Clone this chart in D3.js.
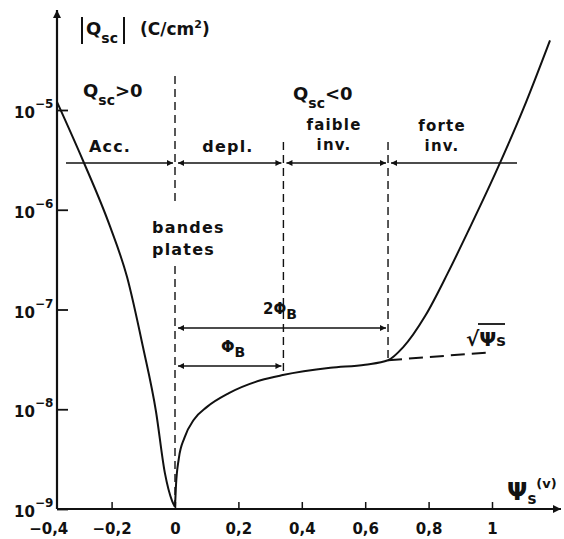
<!DOCTYPE html>
<html>
<head>
<meta charset="utf-8">
<script src="https://cdn.jsdelivr.net/npm/d3@7"></script>
<style>
body { margin: 0; background: #fff; }
text { font-family: "DejaVu Sans", sans-serif; font-weight: bold; fill: #111; }
</style>
</head>
<body>
<svg id="plot"></svg>
<script>
// accumulation branch (psi_s in V, |Qsc| in C/cm2)
const accPsi = [-0.372, -0.29, -0.205, -0.151, -0.101, -0.06, -0.032, -0.009, 0];
const accQ = [1.2e-5, 3.1e-6, 6.8e-7, 2.1e-7, 4.2e-8, 9.5e-9, 2.3e-9, 1.2e-9, 1.05e-9];
// depletion / inversion branch
const invPsi = [0, 0.003, 0.012, 0.03, 0.06, 0.1, 0.17, 0.27, 0.34, 0.49, 0.6, 0.672, 0.72, 0.79, 0.86, 0.93, 1.01, 1.1, 1.183];
const invQ = [1.05e-9, 1.7e-9, 3.2e-9, 5.2e-9, 7.9e-9, 1.05e-8, 1.45e-8, 1.95e-8, 2.2e-8, 2.6e-8, 2.8e-8, 3.1e-8, 4.2e-8, 8.7e-8, 2.3e-7, 6.6e-7, 2.3e-6, 1.05e-5, 5.0e-5];
// sqrt(psi_s) extension (dashed)
const sqrtPsi = [0.672, 0.984];
const sqrtQ = [3.1e-8, 3.7e-8];
// ticks and regions
const xTicks = [-0.4, -0.2, 0, 0.2, 0.4, 0.6, 0.8, 1];
const yTicks = [1e-9, 1e-8, 1e-7, 1e-6, 1e-5];
const phiB = 0.342;
const twoPhiB = 0.672;

const svg = d3.select("#plot")
    .attr("width", 564)
    .attr("height", 539);

const x = d3.scaleLinear().domain([0, 1]).range([175, 492]);
const y = d3.scaleLog().domain([1e-9, 1e-5]).range([509, 110]);
const axisX = 57;

// arrow heads
const defs = svg.append("defs");
defs.append("marker")
    .attr("id", "arr")
    .attr("viewBox", "0 0 10 10")
    .attr("refX", 10).attr("refY", 5)
    .attr("markerUnits", "userSpaceOnUse")
    .attr("markerWidth", 9).attr("markerHeight", 6)
    .attr("orient", "auto-start-reverse")
    .append("path").attr("d", "M0,0 L10,5 L0,10 z").attr("fill", "#111");
defs.append("marker")
    .attr("id", "big")
    .attr("viewBox", "0 0 10 10")
    .attr("refX", 10).attr("refY", 5)
    .attr("markerUnits", "userSpaceOnUse")
    .attr("markerWidth", 11).attr("markerHeight", 8)
    .attr("orient", "auto")
    .append("path").attr("d", "M0,0 L10,5 L0,10 z").attr("fill", "#111");

// x axis
const fmt = v => v === 0 ? "0" : d3.format(".1f")(v).replace(".", ",").replace("-", "\u2212").replace(",0", "");
const gx = svg.append("g")
    .attr("transform", `translate(0,${y(1e-9)})`)
    .call(d3.axisBottom(x).tickValues(xTicks).tickSize(-7).tickPadding(14).tickFormat(fmt));
gx.select(".domain").remove();
gx.selectAll(".tick line").attr("stroke", "#111").attr("stroke-width", 1.5)
    .filter(d => d < -0.3).remove();
gx.selectAll(".tick text").style("font-size", "15px").attr("fill", "#111");
svg.append("line")
    .attr("x1", axisX).attr("x2", 561)
    .attr("y1", y(1e-9)).attr("y2", y(1e-9))
    .attr("stroke", "#111").attr("stroke-width", 2.2)
    .attr("marker-end", "url(#big)");

// y axis
const gy = svg.append("g")
    .attr("transform", `translate(${axisX},0)`)
    .call(d3.axisLeft(y).tickValues(yTicks).tickSize(-11).tickFormat(""));
gy.select(".domain").remove();
gy.selectAll(".tick line").attr("stroke", "#111").attr("stroke-width", 1.8);
svg.append("line")
    .attr("x1", axisX).attr("x2", axisX)
    .attr("y1", y(1e-9)).attr("y2", 10)
    .attr("stroke", "#111").attr("stroke-width", 2.2)
    .attr("marker-end", "url(#big)");

const yLab = svg.append("g").selectAll("text")
    .data(yTicks).enter().append("text")
    .attr("x", 14)
    .attr("y", d => y(d) + 8)
    .style("font-size", "15px");
yLab.append("tspan").text("10");
yLab.append("tspan")
    .attr("dy", -10).style("font-size", "12px")
    .text(d => "\u2212" + Math.round(-Math.log10(d)));

// curves
const line = d3.line()
    .x(d => x(d[0]))
    .y(d => y(d[1]))
    .curve(d3.curveMonotoneX);

svg.append("path")
    .datum(accPsi.map((p, i) => [p, accQ[i]]))
    .attr("d", line)
    .attr("fill", "none").attr("stroke", "#111").attr("stroke-width", 2);
svg.append("path")
    .datum(invPsi.map((p, i) => [p, invQ[i]]))
    .attr("d", line)
    .attr("fill", "none").attr("stroke", "#111").attr("stroke-width", 2);
svg.append("path")
    .datum(sqrtPsi.map((p, i) => [p, sqrtQ[i]]))
    .attr("d", line)
    .attr("fill", "none").attr("stroke", "#111").attr("stroke-width", 2)
    .attr("stroke-dasharray", "14,7");

// dashed verticals
function vdash(px, y1, y2) {
    svg.append("line")
        .attr("x1", px).attr("x2", px)
        .attr("y1", y1).attr("y2", y2)
        .attr("stroke", "#111").attr("stroke-width", 1.4)
        .attr("stroke-dasharray", "8,5");
}
vdash(x(0), 76, 205);
vdash(x(0), 266, y(1e-9) - 4);
vdash(x(phiB), 142, 372);
vdash(x(twoPhiB), 142, 358);

// arrows
function harrow(x1, x2, yy, start, end) {
    const l = svg.append("line")
        .attr("x1", x1).attr("x2", x2)
        .attr("y1", yy).attr("y2", yy)
        .attr("stroke", "#111").attr("stroke-width", 1.6);
    if (start) l.attr("marker-start", "url(#arr)");
    if (end) l.attr("marker-end", "url(#arr)");
}
const ry = 163;
harrow(66, x(0) - 2, ry, false, true);
harrow(x(0) + 3, x(phiB) - 2, ry, true, true);
harrow(x(phiB) + 3, x(twoPhiB) - 2, ry, true, true);
harrow(x(twoPhiB) + 3, 517, ry, true, false);
harrow(x(0) + 3, x(twoPhiB) - 2, 328, true, true);
harrow(x(0) + 3, x(phiB) - 2, 366, true, true);

// labels
function label(tx, ty, str, size, anchor) {
    return svg.append("text")
        .attr("x", tx).attr("y", ty)
        .attr("text-anchor", anchor || "start")
        .style("font-size", size + "px")
        .style("letter-spacing", "1.2px")
        .text(str);
}
function qsc(tx, ty, rest) {
    const t = svg.append("text").attr("x", tx).attr("y", ty).style("font-size", "18px");
    t.append("tspan").text("Q");
    t.append("tspan").attr("dy", 8).style("font-size", "14px").text("sc");
    t.append("tspan").attr("dy", -8).text(rest);
    return t;
}

// title |Qsc| (C/cm2)
svg.append("line").attr("x1", 82).attr("x2", 82).attr("y1", 17).attr("y2", 44)
    .attr("stroke", "#111").attr("stroke-width", 2);
svg.append("line").attr("x1", 124).attr("x2", 124).attr("y1", 17).attr("y2", 44)
    .attr("stroke", "#111").attr("stroke-width", 2);
qsc(86, 35, "");
const unit = svg.append("text").attr("x", 140).attr("y", 35).style("font-size", "17px");
unit.append("tspan").text("(C/cm");
unit.append("tspan").attr("dy", -7).style("font-size", "11px").text("2");
unit.append("tspan").attr("dy", 7).text(")");

qsc(83, 97, ">0");
qsc(293, 100, "<0");

label(110, 152, "Acc.", 16, "middle");
label(228, 152, "depl.", 16, "middle");
label(334, 130, "faible", 15, "middle");
label(334, 150, "inv.", 15, "middle");
label(442, 131, "forte", 15, "middle");
label(442, 151, "inv.", 15, "middle");
label(152, 233, "bandes", 16);
label(152, 255, "plates", 16);

const p2 = svg.append("text").attr("x", 263).attr("y", 314).style("font-size", "15px");
p2.append("tspan").text("2\u03A6");
p2.append("tspan").attr("dy", 5).style("font-size", "14px").text("B");
const p1 = svg.append("text").attr("x", 221).attr("y", 352).style("font-size", "16px");
p1.append("tspan").text("\u03A6");
p1.append("tspan").attr("dy", 5).style("font-size", "14px").text("B");

// sqrt(psi_s)
const sq = svg.append("text").attr("x", 466).attr("y", 346).style("font-size", "20px");
sq.append("tspan").text("\u221A\u03A8");
sq.append("tspan").attr("dy", 0).style("font-size", "16px").text("s");
svg.append("line").attr("x1", 478).attr("x2", 505).attr("y1", 324).attr("y2", 324)
    .attr("stroke", "#111").attr("stroke-width", 1.8);

// axis name psi_s (v)
const ps = svg.append("text").attr("x", 507).attr("y", 500).style("font-size", "24px");
ps.append("tspan").text("\u03A8");
ps.append("tspan").attr("dy", 4).style("font-size", "15px").text("s");
ps.append("tspan").attr("dy", -16).style("font-size", "13px").text("(v)");
</script>
</body>
</html>
